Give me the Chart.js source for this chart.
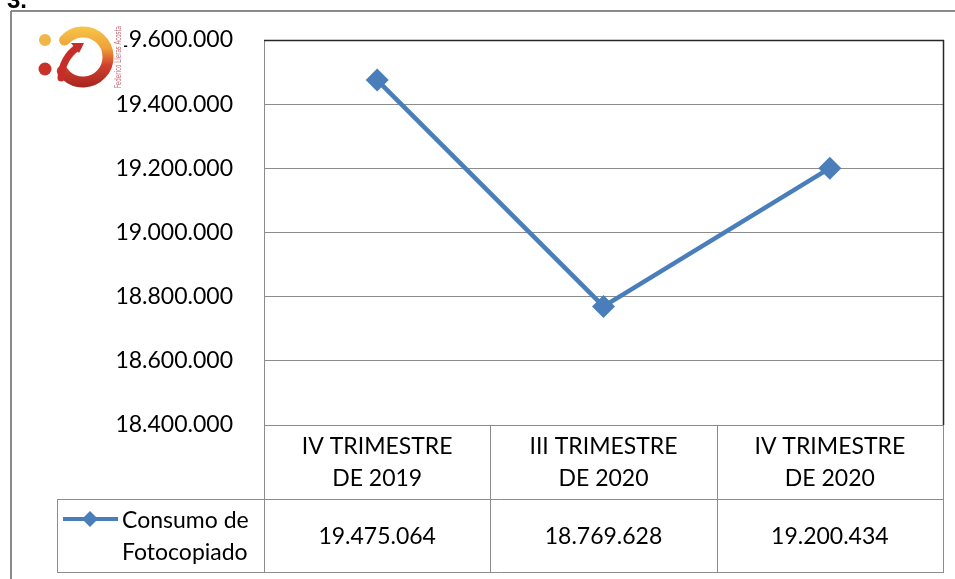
<!DOCTYPE html>
<html>
<head>
<meta charset="utf-8">
<script src="https://cdn.jsdelivr.net/npm/chart.js@4/dist/chart.umd.min.js"></script>
<style>
  html, body { margin: 0; padding: 0; background: #fff; }
  #wrap { position: relative; width: 955px; height: 579px; overflow: hidden; }
  canvas { display: block; }
</style>
</head>
<body>
<div id="wrap"><canvas id="c" width="955" height="579"></canvas></div>
<script>
// ---- data ----
const categories = [["IV TRIMESTRE", "DE 2019"], ["III TRIMESTRE", "DE 2020"], ["IV TRIMESTRE", "DE 2020"]];
const seriesLabelLines = ["Consumo de", "Fotocopiado"];
const seriesName = "Consumo de Fotocopiado";
const values = [19475064, 18769628, 19200434];
const yMin = 18400000;
const yMax = 19600000;
const yStep = 200000;
const headingText = "3.";
const logoText = "Federico Lleras Acosta";

// ---- style ----
const FONT = 'Lato, "Open Sans", sans-serif';
const LINE_COLOR = '#4A7EBB';
const GRID_COLOR = '#8c8c8c';
const TABLE_COLOR = '#8c8c8c';
const TABLE_BOTTOM = 572;
const ROW_SPLIT = 499;
const LEGEND_LEFT = 57;

function fmt(v) {
  return String(Math.round(v)).replace(/\B(?=(\d{3})+(?!\d))/g, '.');
}

function line(ctx, x1, y1, x2, y2, color, w) {
  ctx.beginPath();
  ctx.strokeStyle = color;
  ctx.lineWidth = w;
  ctx.moveTo(x1, y1);
  ctx.lineTo(x2, y2);
  ctx.stroke();
}

function drawLogo(ctx) {
  ctx.save();
  ctx.fillStyle = '#ffffff';
  ctx.fillRect(28, 18, 96, 74);
  // dots
  ctx.fillStyle = '#f2b648';
  ctx.beginPath(); ctx.arc(45, 40, 6, 0, Math.PI * 2); ctx.fill();
  ctx.fillStyle = '#c8322b';
  ctx.beginPath(); ctx.arc(45, 69, 6.5, 0, Math.PI * 2); ctx.fill();
  // outer swoosh
  const g = ctx.createLinearGradient(0, 25, 0, 92);
  g.addColorStop(0, '#f7c948');
  g.addColorStop(0.35, '#eea03a');
  g.addColorStop(0.6, '#d2402e');
  g.addColorStop(1, '#9e1f1d');
  ctx.strokeStyle = g;
  ctx.lineCap = 'round';
  ctx.lineWidth = 11;
  ctx.beginPath();
  ctx.arc(83, 57, 25, -2.4, 2.55);
  ctx.stroke();
  // inner hook
  ctx.strokeStyle = '#c62d28';
  ctx.lineWidth = 7;
  ctx.beginPath();
  ctx.moveTo(78, 47);
  ctx.quadraticCurveTo(62, 58, 61, 78);
  ctx.stroke();
  ctx.fillStyle = '#c62d28';
  ctx.beginPath();
  ctx.moveTo(71, 43); ctx.lineTo(84, 43); ctx.lineTo(79, 53); ctx.closePath(); ctx.fill();
  // vertical text
  ctx.translate(121, 88);
  ctx.rotate(-Math.PI / 2);
  ctx.fillStyle = '#c56a74';
  ctx.font = '8px "DejaVu Sans Condensed", "DejaVu Sans", sans-serif';
  ctx.textBaseline = 'alphabetic';
  ctx.fillText(logoText, 0, 0, 62);
  ctx.restore();
}

const tablePlugin = {
  id: 'tablePlugin',
  beforeDraw(chart) {
    const ctx = chart.ctx;
    ctx.save();
    ctx.fillStyle = '#ffffff';
    ctx.fillRect(0, 0, chart.width, chart.height);
    // outer frame
    line(ctx, 11, 11, chart.width, 11, '#8a8a8a', 2);
    line(ctx, 11, 11, 11, chart.height, '#8a8a8a', 2);
    // heading
    ctx.fillStyle = '#000';
    ctx.font = 'bold 24px "Liberation Sans", Arial, sans-serif';
    ctx.textBaseline = 'alphabetic';
    ctx.textAlign = 'left';
    ctx.fillText(headingText, 7, 8);
    ctx.restore();
  },
  afterDraw(chart) {
    const ctx = chart.ctx;
    const ca = chart.chartArea;
    const xs = chart.scales.x;
    const n = categories.length;
    ctx.save();
    // plot border top/right
    line(ctx, ca.left, ca.top + 0.5, ca.right + 1, ca.top + 0.5, '#262626', 1.5);
    line(ctx, ca.right + 0.5, ca.top, ca.right + 0.5, ca.bottom, '#262626', 1.5);
    // table lines
    const bounds = [];
    for (let i = 0; i <= n; i++) bounds.push(ca.left + (ca.right - ca.left) * i / n);
    for (let i = 0; i <= n; i++) {
      const x = Math.round(bounds[i]) + 0.5;
      line(ctx, x, ca.bottom, x, TABLE_BOTTOM, TABLE_COLOR, 1);
    }
    line(ctx, LEGEND_LEFT, ROW_SPLIT + 0.5, ca.right + 1, ROW_SPLIT + 0.5, TABLE_COLOR, 1);
    line(ctx, LEGEND_LEFT, TABLE_BOTTOM + 0.5, ca.right + 1, TABLE_BOTTOM + 0.5, TABLE_COLOR, 1);
    line(ctx, LEGEND_LEFT + 0.5, ROW_SPLIT, LEGEND_LEFT + 0.5, TABLE_BOTTOM, TABLE_COLOR, 1);
    // category labels and values
    ctx.fillStyle = '#000';
    ctx.font = '23px ' + FONT;
    ctx.textAlign = 'center';
    ctx.textBaseline = 'middle';
    const ds = chart.data.datasets[0].data;
    for (let i = 0; i < n; i++) {
      const cx = xs.getPixelForValue(i);
      ctx.fillText(categories[i][0], cx, 447);
      ctx.fillText(categories[i][1], cx, 479);
      ctx.fillText(fmt(ds[i]), cx, 537);
    }
    // legend key
    line(ctx, 63, 519, 118, 519, LINE_COLOR, 4);
    ctx.fillStyle = LINE_COLOR;
    ctx.beginPath();
    ctx.moveTo(90 - 8, 519); ctx.lineTo(90, 511); ctx.lineTo(90 + 8, 519); ctx.lineTo(90, 527);
    ctx.closePath(); ctx.fill();
    ctx.fillStyle = '#000';
    ctx.textAlign = 'left';
    ctx.fillText(seriesLabelLines[0], 122, 521);
    ctx.fillText(seriesLabelLines[1], 122, 553);
    ctx.restore();
    drawLogo(ctx);
  }
};

new Chart(document.getElementById('c'), {
  type: 'line',
  data: {
    labels: categories.map(c => c.join(' ')),
    datasets: [{
      label: seriesName,
      data: values,
      borderColor: LINE_COLOR,
      backgroundColor: LINE_COLOR,
      borderWidth: 4.5,
      tension: 0,
      pointStyle: 'rectRot',
      pointRadius: 11.5,
      pointHoverRadius: 11.5,
      pointBackgroundColor: LINE_COLOR,
      pointBorderColor: LINE_COLOR,
      pointBorderWidth: 0
    }]
  },
  options: {
    responsive: false,
    animation: false,
    devicePixelRatio: 1,
    layout: { padding: { top: 40, right: 12, bottom: 579 - 425, left: 0 } },
    plugins: { legend: { display: false }, tooltip: { enabled: false } },
    scales: {
      x: {
        type: 'category',
        display: false,
        offset: true
      },
      y: {
        min: yMin,
        max: yMax,
        afterFit(scale) {
          scale.width = 264;
          scale.paddingTop = 0;
          scale.paddingBottom = 0;
        },
        ticks: {
          stepSize: yStep,
          padding: 31,
          color: '#000',
          font: { family: FONT, size: 23 },
          callback: v => fmt(v)
        },
        grid: { color: GRID_COLOR, lineWidth: 1, drawTicks: false },
        border: { display: true, color: GRID_COLOR, width: 1 }
      }
    }
  },
  plugins: [tablePlugin]
});
</script>
</body>
</html>
